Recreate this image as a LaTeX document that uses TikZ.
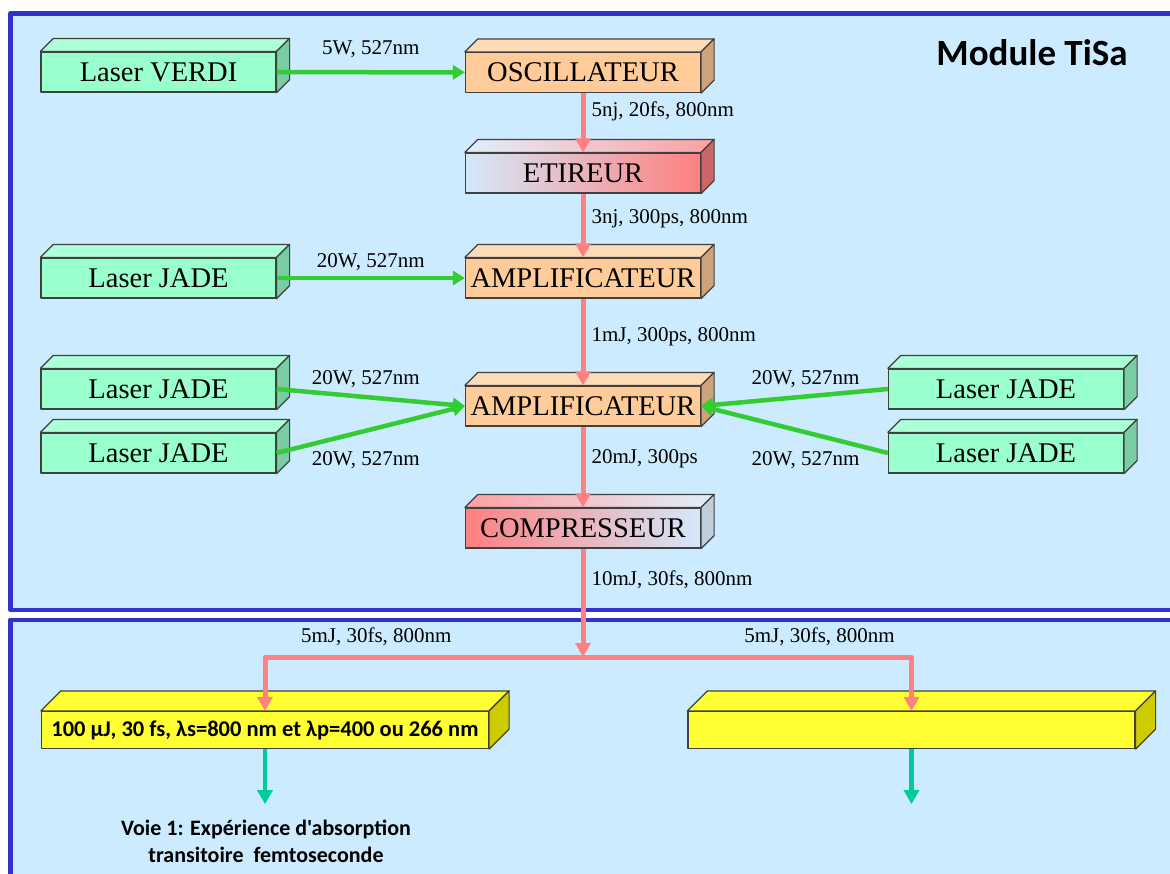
\documentclass[tikz,border=0pt]{standalone}
\usepackage{fontspec}
\setmainfont{Liberation Serif}
\newfontfamily\calibri{Carlito}
\usetikzlibrary{arrows.meta,calc,positioning}
\definecolor{panel}{RGB}{204,235,255}
\definecolor{frameblue}{RGB}{51,51,204}
\definecolor{pump}{RGB}{51,204,51}
\definecolor{beam}{RGB}{255,128,128}
\definecolor{probe}{RGB}{0,204,153}
\definecolor{laserfront}{RGB}{153,255,204}
\definecolor{lasertop}{RGB}{172,255,214}
\definecolor{laserside}{RGB}{122,204,163}
\definecolor{orfront}{RGB}{255,204,153}
\definecolor{ortop}{RGB}{255,218,182}
\definecolor{orside}{RGB}{204,163,122}
\definecolor{yfront}{RGB}{255,255,51}
\definecolor{yside}{RGB}{204,204,0}
\definecolor{pale}{RGB}{212,232,250}
\definecolor{edge}{RGB}{64,64,64}

\newcommand{\cubetop}[4]{%
	\path[draw=edge,line width=1.2pt,#3] (#1.north west) -- ++(#2,-#2) -- ($(#1.north east)+(#2,-#2)$) -- (#1.north east) -- cycle;
	\path[draw=edge,line width=1.2pt,#4] (#1.north east) -- ++(#2,-#2) -- ($(#1.south east)+(#2,-#2)$) -- (#1.south east) -- cycle;}

\begin{document}
\begin{tikzpicture}[x=1pt,y=-1pt,line join=round,
	cube/.style={draw=edge,line width=1.2pt,minimum width=235pt,minimum height=40pt,inner sep=0pt,font=\fontsize{28.5}{30}\selectfont},
	laser/.style={cube,fill=laserfront},
	stage/.style={cube,fill=orfront},
	sortie/.style={draw=edge,line width=1.2pt,fill=yfront,minimum width=447pt,minimum height=37pt,inner sep=0pt,font=\calibri\bfseries\fontsize{22.5}{24}\selectfont},
	pumpline/.style={draw=pump,line width=4.5pt,-{Triangle[length=12pt,width=14pt]}},
	beamline/.style={draw=beam,line width=5pt,-{Triangle[length=14pt,width=15pt]}},
	exitline/.style={draw=probe,line width=4.5pt,-{Triangle[length=14pt,width=15pt]}},
	lbl/.style={font=\fontsize{21}{23}\selectfont,inner sep=2pt}]
	\useasboundingbox (0,0) rectangle (1170,873);
	\draw[frameblue,line width=4.5pt,fill=panel] (10.25,13.5) rectangle (1190,609.75);
	\draw[frameblue,line width=4.5pt,fill=panel] (10.25,619.75) rectangle (1190,890);

	\node[laser] (verdi) at (158.5,72) {Laser VERDI};
	\node[stage] (osc) at (583,72.5) {OSCILLATEUR};
	\node[cube,left color=pale,right color=beam] (etir) at (583,173) {ETIREUR};
	\node[laser] (jadeA) at (158.5,278) {Laser JADE};
	\node[stage] (ampA) at (583,278) {AMPLIFICATEUR};
	\node[laser] (jadeB) at (158.5,389) {Laser JADE};
	\node[laser] (jadeC) at (158.5,453) {Laser JADE};
	\node[stage] (ampB) at (583,406) {AMPLIFICATEUR};
	\node[laser] (jadeD) at (1006,389) {Laser JADE};
	\node[laser] (jadeE) at (1006,453) {Laser JADE};
	\node[cube,left color=beam,right color=pale] (comp) at (583,528) {COMPRESSEUR};
	\node[sortie] (yelA) at (265,730) {100 µJ, 30 fs, λs=800 nm et λp=400 ou 266 nm};
	\node[sortie] (yelB) at (911.5,730) {};

	\foreach \n in {verdi,jadeA,jadeB,jadeC,jadeD,jadeE} {\cubetop{\n}{13}{fill=lasertop}{fill=laserside}}
	\foreach \n in {osc,ampA,ampB} {\cubetop{\n}{13}{fill=ortop}{fill=orside}}
	\cubetop{etir}{13}{left color=pale!70!white,right color=beam!75!white}{fill=beam!80!black}
	\cubetop{comp}{13}{left color=beam!75!white,right color=pale!70!white}{fill=pale!75!gray}
	\foreach \n in {yelA,yelB} {\cubetop{\n}{20}{fill=yfront}{fill=yside}}

	\node[font=\calibri\bfseries\fontsize{37}{40}\selectfont] (titre) at (1032,53) {Module TiSa};

	\draw[pumpline] (verdi) -- (osc) node[lbl,midway,above=10pt] {5W, 527nm};
	\draw[pumpline] (jadeA) -- (ampA) node[lbl,midway,above=3pt] {20W, 527nm};
	\draw[pumpline] (jadeB.east) -- (ampB.west) node[lbl,midway,above=6pt,xshift=-5pt] {20W, 527nm};
	\draw[pumpline] (jadeC.east) -- (ampB.west) node[lbl,midway,below=18pt,xshift=-5pt] {20W, 527nm};
	\draw[pumpline] (jadeD.west) -- (ampB.east) node[lbl,midway,above=6pt,xshift=11pt] {20W, 527nm};
	\draw[pumpline] (jadeE.west) -- (ampB.east) node[lbl,midway,below=18pt,xshift=11pt] {20W, 527nm};

	\draw[beamline] (osc) -- (etir) node[lbl,pos=0.3,right=4pt] {5nj, 20fs, 800nm};
	\draw[beamline] (etir) -- (ampA) node[lbl,pos=0.4,right=4pt] {3nj, 300ps, 800nm};
	\draw[beamline] (ampA) -- (ampB) node[lbl,pos=0.44,right=4pt] {1mJ, 300ps, 800nm};
	\draw[beamline] (ampB) -- (comp) node[lbl,pos=0.4,right=4pt] {20mJ, 300ps};
	\coordinate (split) at (583,657);
	\draw[beamline] (comp) -- (split) node[lbl,pos=0.29,right=4pt] {10mJ, 30fs, 800nm};
	\draw[beamline] (split) -| (yelA.north) node[lbl,pos=0.325,above=7pt] {5mJ, 30fs, 800nm};
	\draw[beamline] (split) -| (yelB.north) node[lbl,pos=0.36,above=7pt] {5mJ, 30fs, 800nm};

	\coordinate (voieA) at ($(yelA.south)+(0,55)$);
	\coordinate (voieB) at ($(yelB.south)+(0,55)$);
	\draw[exitline] (yelA) -- (voieA);
	\draw[exitline] (yelB) -- (voieB);
	\node[font=\calibri\bfseries\fontsize{22}{27}\selectfont,align=center] (voie) at (266,841) {Voie 1: Expérience d'absorption\\transitoire\ \ femtoseconde};
\end{tikzpicture}
\end{document}
